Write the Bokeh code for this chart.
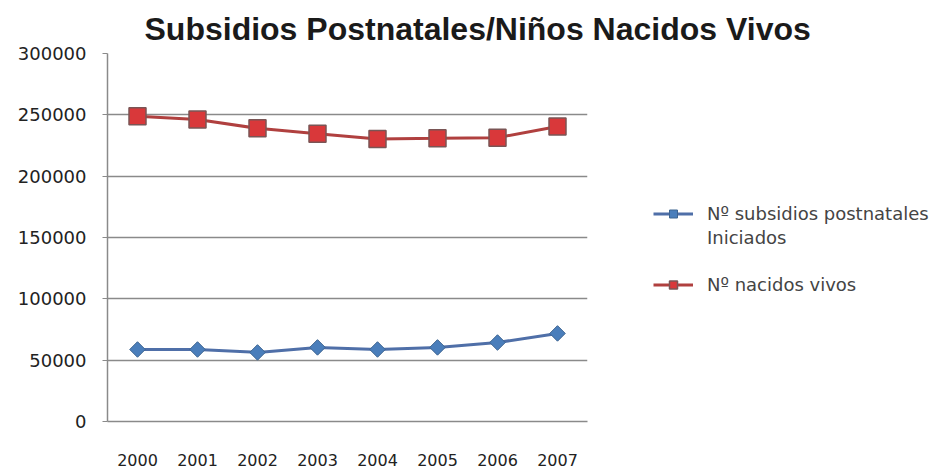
import math
from bokeh.plotting import figure
from bokeh.models import Range1d, SingleIntervalTicker, BasicTickFormatter, Legend, LegendItem, Title
from bokeh.embed import file_html
from bokeh.resources import INLINE

years = ["2000", "2001", "2002", "2003", "2004", "2005", "2006", "2007"]
subsidios = [58700, 58700, 56300, 60400, 58700, 60400, 64400, 71800]
nacidos = [248893, 246116, 238981, 234486, 230352, 230831, 231383, 240569]
label_subsidios = ["Nº subsidios postnatales", "Iniciados"]
label_nacidos = "Nº nacidos vivos"
title_text = "Subsidios Postnatales/Niños Nacidos Vivos"

p = figure(frame_width=480, frame_height=368, x_range=years, y_range=Range1d(0, 300000),
           output_backend="svg", toolbar_location=None,
           min_border_left=107, min_border_right=0, min_border_top=53, min_border_bottom=46)
p.x_range.range_padding = 0
p.outline_line_color = None
p.background_fill_color = "white"
p.border_fill_color = "white"

p.title = Title(text=title_text, align="left", text_font="Liberation Sans",
                text_font_size="32px", text_font_style="bold", text_color="#1a1a1a",
                offset=37, standoff=14)

grid_col = "#8a8a8a"
p.xgrid.grid_line_color = None
p.ygrid.grid_line_color = grid_col
p.ygrid.grid_line_width = 1.5
p.yaxis.ticker = SingleIntervalTicker(interval=50000)
p.yaxis.formatter = BasicTickFormatter(use_scientific=False)
for ax in (p.xaxis, p.yaxis):
    ax.axis_line_color = grid_col
    ax.axis_line_width = 1.5
    ax.minor_tick_line_color = None
    ax.major_label_text_font = "DejaVu Sans"
    ax.major_label_text_color = "#222222"
p.xaxis.major_label_text_font_size = "16px"
p.yaxis.major_label_text_font_size = "18px"
p.yaxis.major_tick_line_color = grid_col
p.yaxis.major_tick_in = 0
p.yaxis.major_tick_out = 5
p.yaxis.major_label_standoff = 16
p.xaxis.major_tick_line_color = None
p.xaxis.major_label_standoff = 26

bl = p.line(years, subsidios, line_color="#4f6fa8", line_width=3)
bs = p.scatter(years, subsidios, marker="square", angle=math.pi / 4, size=11,
               fill_color="#4a7ebb", line_color="#3d6491", line_width=1)
rl = p.line(years, nacidos, line_color="#b0403f", line_width=3)
rs = p.scatter(years, nacidos, marker="square", size=17, fill_color="#d9383a",
               line_color="#7a5555", line_width=1.5)
blank = p.line(years, subsidios, line_alpha=0)

legend = Legend(items=[LegendItem(label=" ", renderers=[blank]),
                       LegendItem(label=label_subsidios[0], renderers=[bl, bs]),
                       LegendItem(label=label_subsidios[1], renderers=[blank]),
                       LegendItem(label=" ", renderers=[blank]),
                       LegendItem(label=label_nacidos, renderers=[rl, rs])],
                location="center_left", orientation="vertical",
                background_fill_alpha=0, border_line_color=None,
                label_text_font="DejaVu Sans", label_text_font_size="18px",
                label_text_color="#444444", glyph_width=40, glyph_height=20,
                label_height=20, spacing=3, padding=0, margin=66, label_standoff=14)
p.add_layout(legend, "right")

open("out.html", "w").write(file_html(p, INLINE))
